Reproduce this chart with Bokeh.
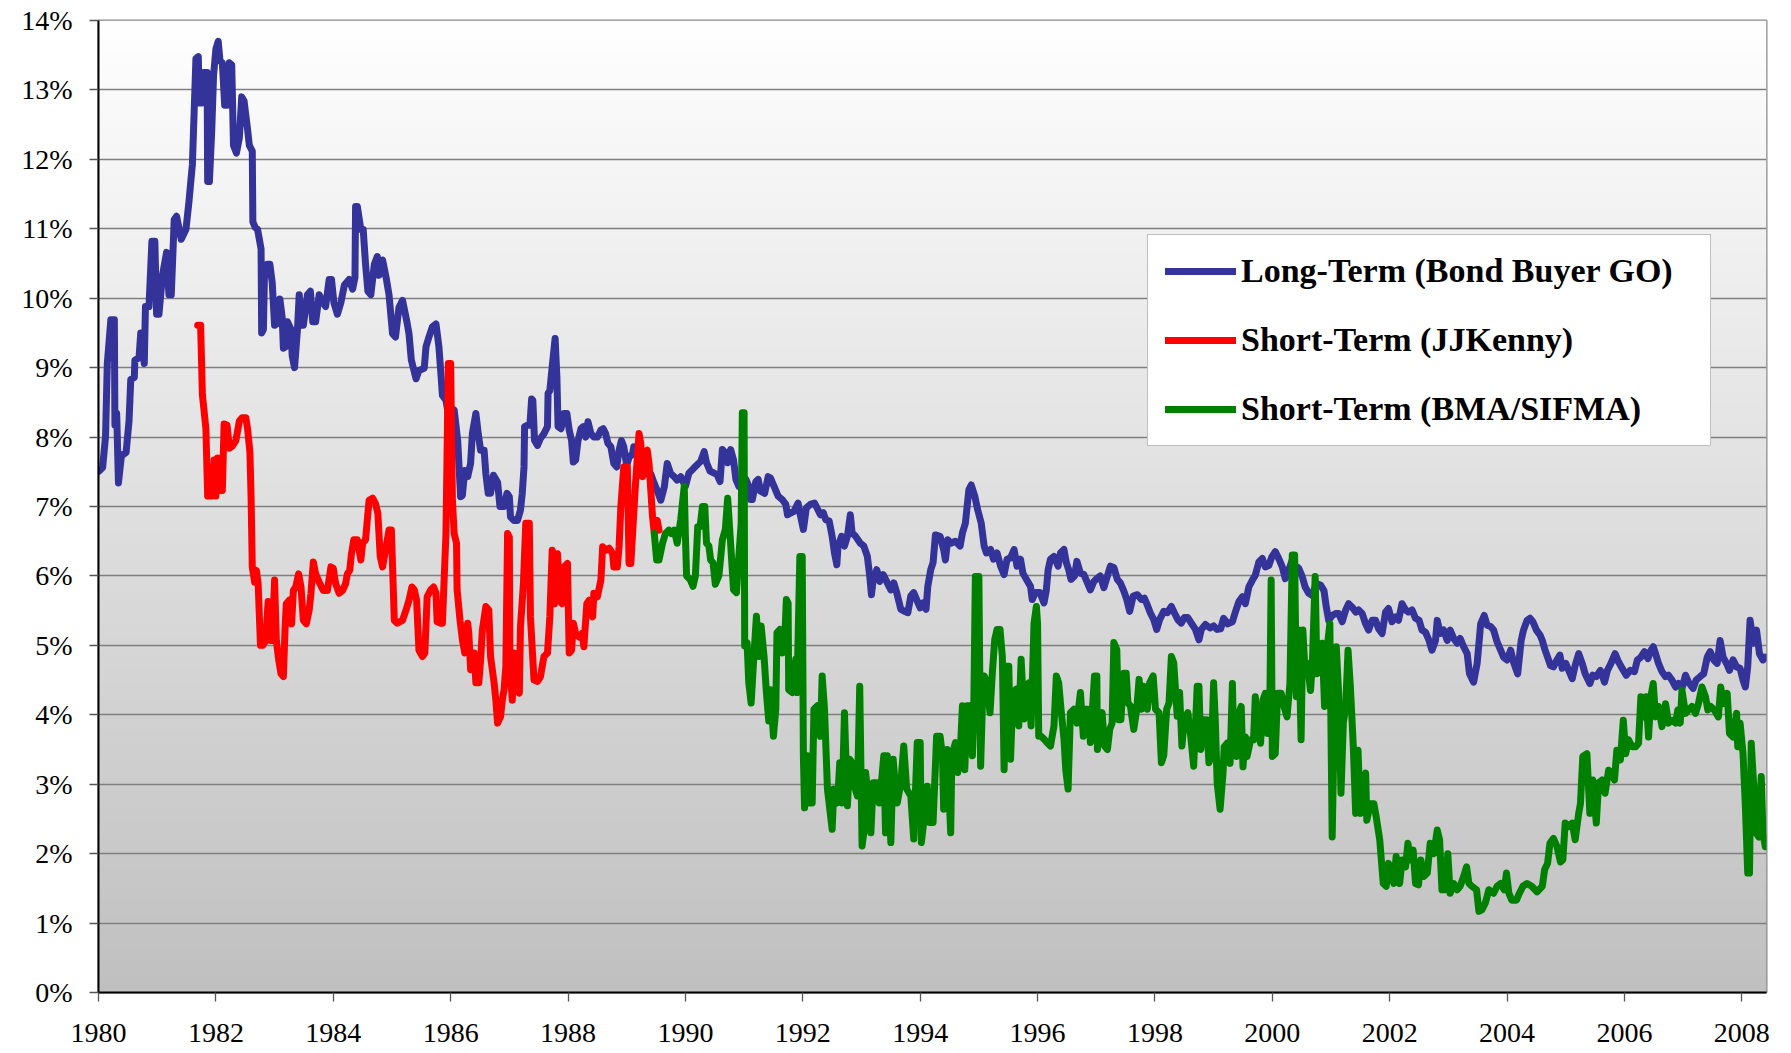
import numpy as np
from bokeh.plotting import figure
from bokeh.models import Range1d, FixedTicker, PrintfTickFormatter, Legend, LegendItem
from bokeh.embed import file_html
from bokeh.resources import INLINE

# ---------------- data ----------------
year_ticks = [1980, 1982, 1984, 1986, 1988, 1990, 1992, 1994, 1996, 1998, 2000, 2002, 2004, 2006, 2008]
pct_ticks = list(range(0, 15))
series_labels = ["Long-Term (Bond Buyer GO)", "Short-Term (JJKenny)", "Short-Term (BMA/SIFMA)"]

long_years = [
    1980.01, 1980.07, 1980.12, 1980.15, 1980.21, 1980.27, 1980.28, 1980.31, 1980.34, 1980.39,
    1980.47, 1980.52, 1980.55, 1980.61, 1980.62, 1980.69, 1980.72, 1980.78, 1980.80, 1980.86,
    1980.91, 1980.96, 1980.99, 1981.03, 1981.09, 1981.16, 1981.20, 1981.24, 1981.29, 1981.33,
    1981.41, 1981.49, 1981.54, 1981.60, 1981.66, 1981.70, 1981.72, 1981.75, 1981.79, 1981.85,
    1981.86, 1981.89, 1981.93, 1981.96, 1982.00, 1982.04, 1982.07, 1982.11, 1982.15, 1982.19,
    1982.23, 1982.27, 1982.30, 1982.35, 1982.40, 1982.44, 1982.48, 1982.54, 1982.57, 1982.62,
    1982.63, 1982.67, 1982.71, 1982.77, 1982.78, 1982.81, 1982.83, 1982.87, 1982.92, 1982.96,
    1983.00, 1983.05, 1983.09, 1983.13, 1983.15, 1983.19, 1983.22, 1983.28, 1983.30, 1983.34,
    1983.39, 1983.42, 1983.46, 1983.49, 1983.56, 1983.61, 1983.65, 1983.70, 1983.76, 1983.82,
    1983.87, 1983.93, 1983.97, 1984.01, 1984.07, 1984.13, 1984.19, 1984.27, 1984.33, 1984.37,
    1984.38, 1984.41, 1984.47, 1984.51, 1984.55, 1984.59, 1984.64, 1984.70, 1984.75, 1984.78,
    1984.84, 1984.90, 1984.95, 1985.01, 1985.06, 1985.12, 1985.18, 1985.25, 1985.29, 1985.33,
    1985.41, 1985.46, 1985.55, 1985.58, 1985.63, 1985.69, 1985.75, 1985.80, 1985.83, 1985.86,
    1985.92, 1985.97, 1986.06, 1986.12, 1986.17, 1986.20, 1986.24, 1986.29, 1986.34, 1986.37,
    1986.43, 1986.47, 1986.51, 1986.57, 1986.60, 1986.64, 1986.68, 1986.73, 1986.80, 1986.84,
    1986.91, 1986.96, 1987.00, 1987.02, 1987.08, 1987.14, 1987.19, 1987.22, 1987.25, 1987.26,
    1987.31, 1987.35, 1987.38, 1987.40, 1987.43, 1987.48, 1987.53, 1987.59, 1987.65, 1987.66,
    1987.69, 1987.73, 1987.78, 1987.81, 1987.83, 1987.88, 1987.93, 1987.98, 1988.02, 1988.06,
    1988.09, 1988.13, 1988.17, 1988.22, 1988.26, 1988.30, 1988.34, 1988.39, 1988.44, 1988.50,
    1988.56, 1988.60, 1988.64, 1988.68, 1988.73, 1988.78, 1988.83, 1988.87, 1988.91, 1988.95,
    1989.00, 1989.04, 1989.10, 1989.12, 1989.18, 1989.24, 1989.29, 1989.35, 1989.41, 1989.47,
    1989.52, 1989.58, 1989.64, 1989.69, 1989.75, 1989.81, 1989.86, 1989.92, 1990.00, 1990.06,
    1990.14, 1990.20, 1990.26, 1990.32, 1990.36, 1990.42, 1990.49, 1990.54, 1990.59, 1990.63,
    1990.68, 1990.72, 1990.77, 1990.82, 1990.86, 1990.91, 1990.95, 1991.03, 1991.08, 1991.11,
    1991.14, 1991.20, 1991.24, 1991.28, 1991.35, 1991.41, 1991.45, 1991.51, 1991.58, 1991.65,
    1991.71, 1991.74, 1991.80, 1991.85, 1991.92, 1991.95, 1992.01, 1992.06, 1992.13, 1992.20,
    1992.26, 1992.30, 1992.35, 1992.39, 1992.45, 1992.50, 1992.54, 1992.58, 1992.60, 1992.66,
    1992.71, 1992.76, 1992.81, 1992.84, 1992.90, 1992.98, 1993.04, 1993.10, 1993.14, 1993.17,
    1993.20, 1993.26, 1993.31, 1993.37, 1993.44, 1993.50, 1993.55, 1993.60, 1993.67, 1993.73,
    1993.79, 1993.84, 1993.89, 1993.94, 1994.00, 1994.05, 1994.10, 1994.13, 1994.18, 1994.22,
    1994.26, 1994.34, 1994.40, 1994.43, 1994.47, 1994.52, 1994.60, 1994.68, 1994.72, 1994.77,
    1994.83, 1994.87, 1994.93, 1994.98, 1995.04, 1995.09, 1995.13, 1995.20, 1995.25, 1995.31,
    1995.37, 1995.43, 1995.48, 1995.54, 1995.60, 1995.65, 1995.71, 1995.75, 1995.81, 1995.88,
    1995.91, 1995.96, 1996.04, 1996.11, 1996.15, 1996.18, 1996.22, 1996.28, 1996.35, 1996.39,
    1996.45, 1996.49, 1996.53, 1996.57, 1996.63, 1996.67, 1996.73, 1996.79, 1996.85, 1996.90,
    1996.96, 1997.02, 1997.07, 1997.13, 1997.19, 1997.24, 1997.30, 1997.36, 1997.41, 1997.47,
    1997.52, 1997.57, 1997.63, 1997.70, 1997.77, 1997.82, 1997.88, 1997.92, 1997.98, 1998.03,
    1998.08, 1998.15, 1998.21, 1998.28, 1998.33, 1998.39, 1998.45, 1998.50, 1998.56, 1998.62,
    1998.69, 1998.75, 1998.79, 1998.86, 1998.94, 1999.00, 1999.06, 1999.12, 1999.17, 1999.24,
    1999.32, 1999.37, 1999.43, 1999.49, 1999.54, 1999.60, 1999.66, 1999.71, 1999.77, 1999.83,
    1999.88, 1999.94, 1999.99, 2000.05, 2000.11, 2000.17, 2000.22, 2000.28, 2000.34, 2000.39,
    2000.45, 2000.51, 2000.56, 2000.62, 2000.68, 2000.75, 2000.82, 2000.88, 2000.92, 2000.96,
    2001.02, 2001.08, 2001.13, 2001.19, 2001.25, 2001.30, 2001.36, 2001.42, 2001.47, 2001.53,
    2001.59, 2001.64, 2001.70, 2001.76, 2001.81, 2001.87, 2001.93, 2001.98, 2002.04, 2002.10,
    2002.15, 2002.21, 2002.27, 2002.32, 2002.38, 2002.44, 2002.50, 2002.55, 2002.61, 2002.67,
    2002.72, 2002.78, 2002.81, 2002.86, 2002.92, 2002.98, 2003.03, 2003.09, 2003.15, 2003.20,
    2003.26, 2003.32, 2003.36, 2003.43, 2003.49, 2003.55, 2003.61, 2003.66, 2003.72, 2003.77,
    2003.83, 2003.89, 2003.94, 2004.00, 2004.06, 2004.11, 2004.18, 2004.24, 2004.28, 2004.34,
    2004.39, 2004.44, 2004.50, 2004.56, 2004.60, 2004.64, 2004.69, 2004.74, 2004.79, 2004.85,
    2004.90, 2004.94, 2005.00, 2005.05, 2005.11, 2005.16, 2005.22, 2005.28, 2005.33, 2005.41,
    2005.46, 2005.52, 2005.59, 2005.66, 2005.71, 2005.77, 2005.84, 2005.90, 2005.96, 2006.03,
    2006.10, 2006.17, 2006.22, 2006.28, 2006.34, 2006.40, 2006.44, 2006.49, 2006.53, 2006.58,
    2006.64, 2006.70, 2006.75, 2006.81, 2006.87, 2006.92, 2006.98, 2007.04, 2007.09, 2007.17,
    2007.22, 2007.29, 2007.35, 2007.41, 2007.46, 2007.52, 2007.58, 2007.63, 2007.68, 2007.74,
    2007.79, 2007.85, 2007.91, 2007.97, 2008.02, 2008.06, 2008.10, 2008.14, 2008.20, 2008.25,
    2008.30, 2008.36, 2008.40,
]
long_rates = [
    7.51, 7.56, 8.01, 9.06, 9.69, 9.69, 8.17, 8.34, 7.34, 7.73,
    7.78, 8.23, 8.83, 8.86, 9.11, 9.14, 9.50, 9.06, 9.88, 9.88,
    10.82, 10.82, 9.77, 9.77, 10.33, 10.66, 10.05, 10.05, 11.13, 11.18,
    10.85, 10.99, 11.38, 11.93, 13.45, 13.48, 12.81, 12.81, 13.25, 13.25,
    11.68, 11.68, 12.43, 13.20, 13.59, 13.70, 13.42, 13.39, 12.78, 12.78,
    13.39, 13.36, 12.20, 12.09, 12.31, 12.90, 12.84, 12.43, 12.20, 12.12,
    11.10, 11.02, 10.99, 10.71, 9.50, 9.55, 10.44, 10.49, 10.49, 10.22,
    9.61, 9.64, 9.99, 9.72, 9.28, 9.30, 9.66, 9.55, 9.17, 9.00,
    9.55, 10.05, 9.61, 9.61, 10.05, 10.10, 9.66, 9.66, 10.05, 9.94,
    9.88, 10.27, 10.27, 9.94, 9.77, 9.94, 10.19, 10.27, 10.13, 10.30,
    11.32, 11.32, 10.99, 10.99, 10.49, 10.10, 10.05, 10.49, 10.60, 10.33,
    10.55, 10.30, 10.05, 9.49, 9.44, 9.87, 9.97, 9.68, 9.49, 9.11,
    8.84, 8.96, 8.99, 9.30, 9.44, 9.59, 9.63, 9.30, 8.96, 8.60,
    8.53, 8.29, 8.39, 7.95, 7.14, 7.16, 7.52, 7.43, 7.62, 8.05,
    8.34, 8.05, 7.81, 7.81, 7.47, 7.19, 7.19, 7.45, 7.35, 7.00,
    7.00, 7.19, 7.14, 6.85, 6.80, 6.80, 6.95, 7.19, 7.57, 8.15,
    8.17, 8.17, 8.55, 8.53, 7.95, 7.88, 7.98, 8.05, 8.15, 8.63,
    8.67, 9.01, 9.42, 8.87, 8.15, 8.12, 8.34, 8.34, 8.10, 7.95,
    7.64, 7.67, 7.95, 8.12, 8.15, 8.00, 8.22, 8.05, 8.00, 8.00,
    8.10, 8.12, 8.05, 7.91, 7.86, 7.62, 7.57, 7.81, 7.95, 7.86,
    7.59, 7.71, 7.76, 7.86, 7.71, 7.62, 7.57, 7.47, 7.47, 7.33,
    7.23, 7.09, 7.28, 7.62, 7.47, 7.43, 7.38, 7.43, 7.29, 7.48,
    7.55, 7.60, 7.65, 7.79, 7.63, 7.51, 7.48, 7.46, 7.36, 7.82,
    7.77, 7.63, 7.82, 7.67, 7.39, 7.29, 7.36, 7.39, 7.29, 7.10,
    7.10, 7.36, 7.39, 7.22, 7.19, 7.43, 7.41, 7.29, 7.15, 7.10,
    7.03, 6.88, 6.91, 6.93, 7.05, 6.91, 6.67, 6.98, 7.03, 7.05,
    6.95, 6.88, 6.91, 6.81, 6.79, 6.57, 6.33, 6.16, 6.43, 6.57,
    6.43, 6.57, 6.88, 6.62, 6.57, 6.47, 6.43, 6.28, 6.00, 5.73,
    5.95, 6.09, 5.92, 6.02, 5.90, 5.80, 5.90, 5.76, 5.52, 5.49,
    5.47, 5.71, 5.76, 5.66, 5.54, 5.61, 5.52, 5.85, 6.09, 6.19,
    6.59, 6.57, 6.38, 6.23, 6.52, 6.47, 6.50, 6.43, 6.62, 6.76,
    7.24, 7.31, 7.15, 6.95, 6.76, 6.43, 6.33, 6.38, 6.24, 6.33,
    6.14, 6.02, 6.24, 6.26, 6.38, 6.14, 6.24, 6.04, 5.95, 5.85,
    5.66, 5.76, 5.76, 5.61, 5.80, 6.09, 6.24, 6.28, 6.14, 6.33,
    6.38, 6.19, 6.09, 5.95, 6.00, 6.21, 6.04, 6.02, 5.90, 5.80,
    5.92, 5.97, 6.00, 5.83, 6.00, 6.14, 6.12, 5.95, 5.90, 5.78,
    5.66, 5.49, 5.71, 5.73, 5.66, 5.68, 5.56, 5.47, 5.37, 5.23,
    5.37, 5.49, 5.47, 5.56, 5.47, 5.37, 5.32, 5.40, 5.40, 5.32,
    5.23, 5.08, 5.23, 5.30, 5.25, 5.28, 5.23, 5.24, 5.39, 5.31,
    5.34, 5.48, 5.63, 5.70, 5.60, 5.84, 5.94, 6.01, 6.20, 6.25,
    6.13, 6.15, 6.27, 6.35, 6.25, 6.13, 5.96, 6.08, 6.23, 6.15,
    6.11, 5.99, 5.84, 5.75, 5.72, 5.89, 5.87, 5.79, 5.55, 5.36,
    5.43, 5.46, 5.46, 5.34, 5.51, 5.60, 5.55, 5.48, 5.51, 5.46,
    5.31, 5.22, 5.36, 5.36, 5.24, 5.17, 5.48, 5.53, 5.34, 5.41,
    5.36, 5.60, 5.51, 5.48, 5.51, 5.39, 5.36, 5.22, 5.19, 5.07,
    4.93, 5.07, 5.36, 5.17, 5.22, 5.07, 5.22, 5.10, 5.03, 5.10,
    4.98, 4.88, 4.59, 4.47, 4.74, 5.31, 5.43, 5.29, 5.27, 5.22,
    5.05, 4.93, 4.83, 4.79, 4.93, 4.76, 4.59, 5.07, 5.22, 5.36,
    5.39, 5.34, 5.22, 5.15, 5.07, 4.95, 4.83, 4.71, 4.69, 4.79,
    4.86, 4.67, 4.74, 4.64, 4.52, 4.71, 4.88, 4.74, 4.59, 4.45,
    4.57, 4.55, 4.64, 4.47, 4.64, 4.74, 4.88, 4.76, 4.67, 4.57,
    4.64, 4.62, 4.79, 4.83, 4.91, 4.81, 4.91, 4.98, 4.88, 4.74,
    4.62, 4.55, 4.57, 4.50, 4.40, 4.45, 4.38, 4.57, 4.47, 4.38,
    4.50, 4.55, 4.59, 4.83, 4.91, 4.79, 4.74, 5.07, 4.83, 4.74,
    4.64, 4.79, 4.69, 4.67, 4.50, 4.40, 4.69, 5.36, 5.03, 5.22,
    4.88, 4.79, 4.83,
]

kenny_years = [
    1981.69, 1981.74, 1981.77, 1981.83, 1981.86, 1981.94, 1981.97, 1982.00, 1982.03, 1982.06,
    1982.11, 1982.14, 1982.19, 1982.23, 1982.28, 1982.34, 1982.40, 1982.45, 1982.51, 1982.54,
    1982.58, 1982.60, 1982.62, 1982.66, 1982.69, 1982.72, 1982.76, 1982.80, 1982.85, 1982.89,
    1982.93, 1982.96, 1983.00, 1983.03, 1983.07, 1983.11, 1983.15, 1983.18, 1983.20, 1983.25,
    1983.29, 1983.32, 1983.36, 1983.41, 1983.45, 1983.49, 1983.54, 1983.59, 1983.62, 1983.66,
    1983.70, 1983.76, 1983.83, 1983.90, 1983.96, 1984.00, 1984.04, 1984.10, 1984.16, 1984.21,
    1984.24, 1984.28, 1984.31, 1984.35, 1984.41, 1984.47, 1984.50, 1984.55, 1984.61, 1984.67,
    1984.72, 1984.76, 1984.80, 1984.84, 1984.89, 1984.95, 1984.99, 1985.04, 1985.09, 1985.18,
    1985.24, 1985.29, 1985.34, 1985.38, 1985.42, 1985.46, 1985.52, 1985.56, 1985.60, 1985.66,
    1985.71, 1985.75, 1985.77, 1985.83, 1985.86, 1985.92, 1985.96, 1986.00, 1986.03, 1986.06,
    1986.10, 1986.11, 1986.16, 1986.20, 1986.24, 1986.29, 1986.31, 1986.34, 1986.37, 1986.40,
    1986.43, 1986.48, 1986.51, 1986.54, 1986.60, 1986.65, 1986.68, 1986.74, 1986.77, 1986.80,
    1986.85, 1986.88, 1986.91, 1986.94, 1986.97, 1987.00, 1987.01, 1987.05, 1987.08, 1987.13,
    1987.17, 1987.19, 1987.24, 1987.28, 1987.34, 1987.36, 1987.42, 1987.48, 1987.53, 1987.59,
    1987.65, 1987.69, 1987.73, 1987.77, 1987.82, 1987.86, 1987.90, 1987.93, 1987.99, 1988.02,
    1988.06, 1988.09, 1988.13, 1988.19, 1988.24, 1988.27, 1988.32, 1988.36, 1988.42, 1988.44,
    1988.50, 1988.56, 1988.59, 1988.64, 1988.70, 1988.76, 1988.78, 1988.84, 1988.87, 1988.90,
    1988.95, 1988.98, 1989.01, 1989.04, 1989.07, 1989.10, 1989.15, 1989.21, 1989.24, 1989.27,
    1989.29, 1989.35, 1989.38, 1989.44, 1989.47, 1989.52, 1989.55,
]
kenny_rates = [
    9.61, 9.61, 8.61, 8.12, 7.15, 7.15, 7.67, 7.15, 7.70, 7.23,
    7.23, 8.19, 8.17, 7.84, 7.87, 7.95, 8.23, 8.28, 8.28, 8.12,
    7.78, 7.12, 6.13, 5.91, 6.08, 5.89, 5.00, 5.00, 5.07, 5.63,
    5.07, 5.07, 5.94, 5.07, 4.79, 4.59, 4.55, 5.27, 5.60, 5.65,
    5.31, 5.79, 5.84, 6.03, 5.84, 5.36, 5.31, 5.51, 5.75, 6.20,
    6.03, 5.91, 5.79, 5.79, 6.13, 6.11, 5.89, 5.75, 5.79, 5.89,
    6.03, 6.08, 6.32, 6.52, 6.52, 6.23, 6.47, 6.52, 7.09, 7.12,
    7.04, 6.90, 6.28, 6.13, 6.37, 6.66, 6.66, 5.36, 5.32, 5.36,
    5.51, 5.65, 5.84, 5.80, 5.65, 4.93, 4.84, 4.89, 5.70, 5.80,
    5.84, 5.75, 5.34, 5.32, 5.32, 6.61, 9.06, 9.06, 7.09, 6.61,
    6.47, 5.80, 5.36, 5.08, 4.89, 5.32, 5.17, 4.65, 4.69, 4.89,
    4.46, 4.46, 4.79, 5.22, 5.56, 5.51, 4.84, 4.46, 4.21, 3.88,
    3.97, 4.21, 4.36, 4.69, 6.61, 6.56, 4.69, 4.21, 4.89, 4.46,
    4.31, 5.27, 5.89, 6.76, 6.76, 5.41, 4.50, 4.48, 4.55, 4.84,
    4.89, 5.41, 6.37, 5.60, 6.32, 5.65, 5.60, 6.13, 6.18, 4.89,
    4.93, 5.32, 5.17, 5.12, 5.17, 4.98, 5.60, 5.65, 5.41, 5.75,
    5.70, 5.94, 6.42, 6.37, 6.40, 6.32, 6.13, 6.13, 6.42, 7.00,
    7.57, 7.28, 7.57, 6.18, 6.18, 6.61, 7.33, 8.05, 7.91, 7.43,
    7.76, 7.81, 7.62, 6.85, 6.61, 6.80, 6.66,
]

sifma_years = [
    1989.47, 1989.51, 1989.55, 1989.61, 1989.66, 1989.72, 1989.76, 1989.81, 1989.86, 1989.92,
    1989.98, 1990.00, 1990.02, 1990.08, 1990.13, 1990.17, 1990.21, 1990.25, 1990.29, 1990.33,
    1990.36, 1990.40, 1990.43, 1990.47, 1990.51, 1990.57, 1990.63, 1990.68, 1990.72, 1990.77,
    1990.82, 1990.87, 1990.91, 1990.95, 1990.97, 1991.00, 1991.01, 1991.05, 1991.08, 1991.12,
    1991.17, 1991.21, 1991.25, 1991.29, 1991.34, 1991.38, 1991.42, 1991.45, 1991.50, 1991.54,
    1991.56, 1991.61, 1991.65, 1991.69, 1991.72, 1991.75, 1991.76, 1991.82, 1991.88, 1991.90,
    1991.95, 1991.99, 1992.01, 1992.03, 1992.08, 1992.10, 1992.16, 1992.19, 1992.25, 1992.30,
    1992.33, 1992.37, 1992.42, 1992.46, 1992.50, 1992.53, 1992.59, 1992.63, 1992.67, 1992.71,
    1992.76, 1992.80, 1992.84, 1992.88, 1992.93, 1992.97, 1993.01, 1993.04, 1993.07, 1993.13,
    1993.16, 1993.20, 1993.26, 1993.30, 1993.33, 1993.38, 1993.41, 1993.44, 1993.50, 1993.54,
    1993.58, 1993.61, 1993.67, 1993.72, 1993.77, 1993.84, 1993.89, 1993.95, 1994.00, 1994.02,
    1994.06, 1994.12, 1994.16, 1994.22, 1994.28, 1994.34, 1994.38, 1994.40, 1994.46, 1994.52,
    1994.54, 1994.60, 1994.64, 1994.68, 1994.72, 1994.76, 1994.80, 1994.85, 1994.89, 1994.91,
    1994.94, 1995.00, 1995.03, 1995.06, 1995.09, 1995.14, 1995.19, 1995.23, 1995.27, 1995.31,
    1995.36, 1995.40, 1995.43, 1995.47, 1995.51, 1995.54, 1995.58, 1995.64, 1995.68, 1995.72,
    1995.77, 1995.81, 1995.85, 1995.89, 1995.94, 1995.98, 1996.00, 1996.02, 1996.06, 1996.11,
    1996.16, 1996.22, 1996.28, 1996.32, 1996.36, 1996.40, 1996.45, 1996.48, 1996.52, 1996.56,
    1996.62, 1996.67, 1996.73, 1996.78, 1996.82, 1996.86, 1996.90, 1996.97, 1997.01, 1997.02,
    1997.06, 1997.10, 1997.14, 1997.19, 1997.23, 1997.27, 1997.30, 1997.35, 1997.38, 1997.42,
    1997.47, 1997.51, 1997.54, 1997.58, 1997.64, 1997.69, 1997.73, 1997.77, 1997.81, 1997.87,
    1997.91, 1997.97, 1998.01, 1998.07, 1998.11, 1998.15, 1998.20, 1998.24, 1998.28, 1998.32,
    1998.38, 1998.42, 1998.46, 1998.50, 1998.56, 1998.61, 1998.66, 1998.72, 1998.75, 1998.78,
    1998.83, 1998.88, 1998.92, 1998.96, 1999.00, 1999.03, 1999.06, 1999.11, 1999.16, 1999.18,
    1999.23, 1999.28, 1999.32, 1999.34, 1999.39, 1999.43, 1999.47, 1999.50, 1999.54, 1999.57,
    1999.63, 1999.68, 1999.71, 1999.75, 1999.80, 1999.84, 1999.88, 1999.92, 1999.96, 1999.98,
    2000.00, 2000.05, 2000.09, 2000.15, 2000.20, 2000.25, 2000.30, 2000.34, 2000.38, 2000.41,
    2000.45, 2000.49, 2000.52, 2000.56, 2000.60, 2000.65, 2000.68, 2000.73, 2000.76, 2000.81,
    2000.85, 2000.89, 2000.93, 2000.98, 2001.02, 2001.05, 2001.09, 2001.13, 2001.17, 2001.21,
    2001.25, 2001.29, 2001.33, 2001.38, 2001.42, 2001.46, 2001.50, 2001.55, 2001.59, 2001.61,
    2001.67, 2001.73, 2001.77, 2001.83, 2001.89, 2001.94, 2001.98, 2002.02, 2002.07, 2002.11,
    2002.17, 2002.21, 2002.27, 2002.31, 2002.35, 2002.40, 2002.44, 2002.49, 2002.53, 2002.58,
    2002.64, 2002.69, 2002.75, 2002.81, 2002.85, 2002.89, 2002.95, 2002.99, 2003.03, 2003.09,
    2003.15, 2003.20, 2003.26, 2003.31, 2003.35, 2003.40, 2003.48, 2003.52, 2003.57, 2003.63,
    2003.69, 2003.77, 2003.83, 2003.89, 2003.95, 2003.99, 2004.03, 2004.08, 2004.16, 2004.21,
    2004.27, 2004.34, 2004.42, 2004.51, 2004.60, 2004.64, 2004.69, 2004.73, 2004.79, 2004.85,
    2004.91, 2004.95, 2004.99, 2005.05, 2005.11, 2005.16, 2005.22, 2005.25, 2005.29, 2005.36,
    2005.41, 2005.46, 2005.52, 2005.56, 2005.62, 2005.67, 2005.73, 2005.79, 2005.83, 2005.87,
    2005.93, 2005.98, 2006.02, 2006.07, 2006.13, 2006.19, 2006.24, 2006.28, 2006.33, 2006.37,
    2006.41, 2006.45, 2006.49, 2006.53, 2006.58, 2006.64, 2006.70, 2006.75, 2006.81, 2006.87,
    2006.91, 2006.95, 2006.98, 2007.04, 2007.09, 2007.15, 2007.21, 2007.26, 2007.32, 2007.38,
    2007.42, 2007.47, 2007.53, 2007.60, 2007.64, 2007.69, 2007.75, 2007.79, 2007.85, 2007.91,
    2007.93, 2007.97, 2008.02, 2008.06, 2008.10, 2008.13, 2008.16, 2008.20, 2008.25, 2008.29,
    2008.33, 2008.36, 2008.40,
]
sifma_rates = [
    6.61, 6.23, 6.23, 6.47, 6.61, 6.66, 6.61, 6.66, 6.47, 6.81,
    7.29, 6.57, 6.00, 5.95, 5.85, 6.00, 6.71, 6.71, 7.00, 7.00,
    6.47, 6.43, 6.23, 6.19, 5.88, 6.00, 6.52, 6.67, 7.12, 6.47,
    5.80, 5.76, 6.28, 6.76, 8.35, 8.35, 4.99, 5.04, 4.46, 4.17,
    4.89, 5.42, 4.84, 5.28, 4.84, 4.32, 3.91, 4.36, 3.69, 4.08,
    5.18, 5.23, 4.89, 5.04, 5.66, 5.61, 4.36, 4.32, 4.80, 4.32,
    6.28, 6.28, 3.41, 2.66, 3.41, 2.73, 2.73, 4.08, 4.13, 3.69,
    4.56, 4.08, 2.93, 2.64, 2.35, 2.93, 2.73, 3.31, 2.73, 4.03,
    2.69, 3.36, 3.31, 2.97, 2.83, 4.41, 2.11, 2.30, 3.17, 2.69,
    2.30, 3.02, 3.02, 2.73, 2.93, 3.41, 2.30, 3.41, 2.16, 3.36,
    2.93, 2.73, 3.02, 3.55, 2.93, 2.83, 2.21, 3.60, 3.60, 2.16,
    2.45, 2.97, 2.45, 2.45, 3.69, 3.69, 3.41, 2.64, 3.50, 2.30,
    3.41, 3.60, 3.17, 3.41, 4.13, 3.21, 4.13, 4.13, 3.41, 3.88,
    5.99, 5.99, 3.26, 4.13, 4.56, 4.46, 4.03, 4.61, 5.08, 5.23,
    5.23, 4.84, 3.21, 4.70, 4.70, 3.36, 4.32, 4.37, 3.84, 4.80,
    3.94, 4.41, 4.46, 3.84, 5.32, 5.56, 5.32, 3.69, 3.69, 3.65,
    3.60, 3.55, 3.84, 4.56, 4.46, 4.08, 3.65, 3.21, 2.93, 4.03,
    4.08, 3.88, 4.32, 3.69, 4.08, 4.08, 3.60, 4.56, 4.56, 3.50,
    3.98, 4.03, 3.55, 3.50, 3.79, 3.88, 5.04, 4.94, 3.93, 3.93,
    4.60, 4.60, 4.17, 4.13, 3.79, 4.08, 4.51, 4.08, 4.41, 4.08,
    4.46, 4.56, 4.08, 4.03, 3.31, 3.41, 4.08, 4.17, 4.84, 4.75,
    3.98, 4.32, 3.55, 3.93, 4.03, 3.69, 3.26, 4.41, 4.41, 3.50,
    3.93, 3.93, 3.31, 3.41, 4.46, 3.88, 3.02, 2.64, 3.16, 3.54,
    3.59, 3.30, 4.45, 3.64, 3.40, 4.02, 4.12, 3.25, 3.68, 3.40,
    3.64, 3.64, 4.26, 3.83, 3.59, 4.21, 4.31, 3.73, 4.35, 5.94,
    3.40, 3.44, 4.31, 4.31, 4.12, 3.97, 4.45, 6.30, 6.30, 4.26,
    5.22, 3.64, 5.22, 4.59, 4.74, 4.35, 4.69, 5.99, 4.59, 4.69,
    5.03, 4.12, 4.93, 5.31, 2.24, 3.64, 4.98, 4.31, 2.87, 3.88,
    4.12, 4.93, 4.40, 3.54, 2.58, 3.49, 2.58, 3.06, 3.16, 2.48,
    2.72, 2.72, 2.53, 2.20, 1.57, 1.53, 1.86, 1.72, 1.57, 1.96,
    1.57, 1.91, 1.81, 2.15, 1.91, 2.05, 1.57, 1.55, 1.91, 1.67,
    1.72, 2.15, 2.00, 2.34, 2.20, 1.48, 1.48, 2.00, 1.43, 1.57,
    1.48, 1.53, 1.67, 1.81, 1.57, 1.53, 1.48, 1.17, 1.19, 1.29,
    1.48, 1.43, 1.53, 1.57, 1.48, 1.72, 1.43, 1.33, 1.33, 1.43,
    1.53, 1.57, 1.53, 1.45, 1.53, 1.77, 1.86, 2.15, 2.22, 2.10,
    1.88, 1.91, 2.44, 2.39, 2.44, 2.20, 2.58, 2.72, 3.40, 3.44,
    2.58, 3.06, 2.44, 3.02, 3.06, 2.87, 3.20, 3.16, 3.06, 3.49,
    3.35, 3.92, 3.44, 3.64, 3.54, 3.54, 3.59, 4.26, 3.97, 4.26,
    3.68, 4.26, 4.45, 3.97, 4.12, 3.83, 4.16, 3.88, 3.92, 3.88,
    4.07, 3.88, 4.35, 4.02, 4.07, 4.12, 4.02, 4.16, 4.40, 4.26,
    4.07, 4.12, 4.07, 3.97, 4.40, 4.16, 4.31, 3.73, 3.68, 4.02,
    3.54, 3.88, 3.44, 2.68, 1.72, 1.72, 3.59, 3.01, 2.29, 2.24,
    3.11, 2.29, 2.10,
]

# ---------------- figure ----------------
x_start, x_end = 1980.0, 2008.42
y_start, y_end = 0.0, 14.0

p = figure(width=1791, height=1053, output_backend="svg", toolbar_location=None, title=None,
           x_range=Range1d(x_start, x_end), y_range=Range1d(y_start, y_end),
           min_border_left=98, min_border_right=25, min_border_top=20, min_border_bottom=61)
p.background_fill_color = "white"
p.border_fill_color = "white"
p.outline_line_color = "#8a8a8a"
p.outline_line_width = 2

# vertical gradient background of the plot area (white at top -> grey at bottom)
n = 400
shades = np.linspace(192, 255, n).astype(np.uint8)
img = np.empty((n, 1), dtype=np.uint32)
view = img.view(dtype=np.uint8).reshape((n, 1, 4))
view[:, 0, 0] = shades
view[:, 0, 1] = shades
view[:, 0, 2] = shades
view[:, 0, 3] = 255
p.image_rgba(image=[img], x=x_start, y=y_start, dw=x_end - x_start, dh=y_end - y_start, level="image")

r_long = p.line(long_years, long_rates, line_color="#333399", line_width=7,
                line_join="round", line_cap="round")
r_kenny = p.line(kenny_years, kenny_rates, line_color="#ff0000", line_width=7,
                 line_join="round", line_cap="round")
r_sifma = p.line(sifma_years, sifma_rates, line_color="#008000", line_width=7,
                 line_join="round", line_cap="round")

# axes
p.xaxis.ticker = FixedTicker(ticks=year_ticks)
p.xaxis.formatter = PrintfTickFormatter(format="%d")
p.yaxis.ticker = FixedTicker(ticks=pct_ticks)
p.yaxis.formatter = PrintfTickFormatter(format="%d%%")
for ax in (p.xaxis, p.yaxis):
    ax.axis_line_color = "black"
    ax.axis_line_width = 2
    ax.major_tick_out = 9
    ax.major_tick_in = 0
    ax.minor_tick_out = 0
    ax.minor_tick_in = 0
    ax.major_tick_line_color = "#555555"
    ax.major_tick_line_width = 1.3
    ax.major_label_text_font = "Liberation Serif"
    ax.major_label_text_font_size = "28px"
    ax.major_label_text_color = "black"
p.yaxis.major_label_standoff = 17
p.xaxis.major_label_standoff = 22

p.xgrid.visible = False
p.ygrid.grid_line_color = "#7f7f7f"
p.ygrid.grid_line_width = 1.3

legend = Legend(
    items=[LegendItem(label=series_labels[0], renderers=[r_long]),
           LegendItem(label=series_labels[1], renderers=[r_kenny]),
           LegendItem(label=series_labels[2], renderers=[r_sifma])],
    location=(1049, 546), orientation="vertical",
    padding=17, spacing=31, margin=0,
    glyph_width=71, glyph_height=10, label_height=10, label_width=452, label_standoff=5,
    label_text_font="Liberation Serif", label_text_font_style="bold",
    label_text_font_size="34px", label_text_color="black",
    border_line_color="#7f7f7f", border_line_width=1.5,
    background_fill_color="white", background_fill_alpha=1.0,
)
p.add_layout(legend)

open("out.html", "w").write(file_html(p, INLINE, title="Municipal rates"))
